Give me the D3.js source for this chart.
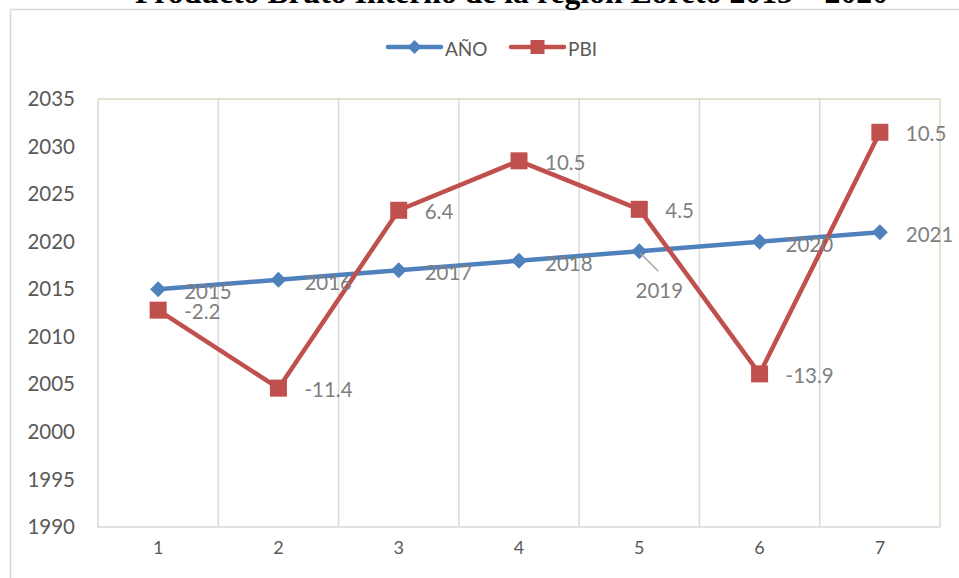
<!DOCTYPE html>
<html>
<head>
<meta charset="utf-8">
<script src="https://cdn.jsdelivr.net/npm/d3@7"></script>
<style>
  html, body { margin: 0; padding: 0; background: #fff; }
  svg { display: block; }
</style>
</head>
<body>
<svg id="chart" width="959" height="578"></svg>
<script>
// ---- data ----
const categories = [1, 2, 3, 4, 5, 6, 7];
const anoValues = [2015, 2016, 2017, 2018, 2019, 2020, 2021];
const anoLabels = ["2015", "2016", "2017", "2018", "2019", "2020", "2021"];
const pbiValues = [2012.8, 2004.6, 2023.3, 2028.5, 2023.4, 2006.1, 2031.5];
const pbiLabels = ["-2.2", "-11.4", "6.4", "10.5", "4.5", "-13.9", "10.5"];
const yTicks = [1990, 1995, 2000, 2005, 2010, 2015, 2020, 2025, 2030, 2035];
const seriesNames = ["AÑO", "PBI"];
const titleText = "Producto Bruto Interno de la región Loreto 2015 – 2020";

const blue = "#4f81bd", red = "#c0504d";
const labelFont = "Lato, Carlito, Calibri, 'Open Sans', sans-serif";

const svg = d3.select("#chart");
const plot = { left: 98, right: 940, top: 99, bottom: 527 };

const x = d3.scaleBand().domain(categories).range([plot.left, plot.right]).padding(0);
const y = d3.scaleLinear().domain([1990, 2035]).range([plot.bottom, plot.top]);
const cx = d => x(d) + x.bandwidth() / 2;

// outer chart border
svg.append("path")
  .attr("d", `M10.5,578 V9.5 H959`)
  .attr("fill", "none").attr("stroke", "#d9d9d9").attr("stroke-width", 1.5);

// title (clipped at top)
svg.append("text")
  .attr("x", 135).attr("y", 3)
  .attr("textLength", 753).attr("lengthAdjust", "spacingAndGlyphs")
  .attr("font-family", "'Liberation Serif', 'Times New Roman', serif")
  .attr("font-weight", "bold").attr("font-size", 31.5)
  .attr("fill", "#000").text(titleText);

// vertical gridlines at category boundaries
const bounds = categories.slice(1).map(c => x(c));
svg.append("g").selectAll("line").data(bounds).join("line")
  .attr("x1", d => d).attr("x2", d => d)
  .attr("y1", plot.top).attr("y2", plot.bottom)
  .attr("stroke", "#d9d9d9").attr("stroke-width", 1.5);

// plot area border
svg.append("path")
  .attr("d", `M${plot.left},${plot.top} H${plot.right} V${plot.bottom}`)
  .attr("fill", "none").attr("stroke", "#ddd9c3").attr("stroke-width", 1.5);
svg.append("path")
  .attr("d", `M${plot.left},${plot.top} V${plot.bottom} H${plot.right}`)
  .attr("fill", "none").attr("stroke", "#d9d9d9").attr("stroke-width", 1.5);

// y axis labels
const yAxis = d3.axisLeft(y).tickValues(yTicks).tickSize(0).tickPadding(23).tickFormat(d3.format("d"));
const gy = svg.append("g").attr("transform", `translate(${plot.left},0)`).call(yAxis);
gy.select(".domain").remove();
gy.selectAll("text").attr("font-family", labelFont).attr("font-size", 20.5).attr("fill", "#595959");

// x axis labels
const xAxis = d3.axisBottom(x).tickSize(0).tickPadding(14);
const gx = svg.append("g").attr("transform", `translate(0,${plot.bottom})`).call(xAxis);
gx.select(".domain").remove();
gx.selectAll("text").attr("font-family", labelFont).attr("font-size", 18).attr("fill", "#595959");

// lines
const line = vals => d3.line().x((d, i) => cx(categories[i])).y(d => y(d))(vals);
svg.append("path").attr("d", line(anoValues)).attr("fill", "none")
  .attr("stroke", blue).attr("stroke-width", 4.5).attr("stroke-linejoin", "round");
svg.append("path").attr("d", line(pbiValues)).attr("fill", "none")
  .attr("stroke", red).attr("stroke-width", 4.5).attr("stroke-linejoin", "round");

// markers
const diamond = (px, py, r) => `M${px},${py - r} L${px + r},${py} L${px},${py + r} L${px - r},${py} Z`;
svg.append("g").selectAll("path").data(anoValues).join("path")
  .attr("d", (d, i) => diamond(cx(categories[i]), y(d), 8))
  .attr("fill", blue);
svg.append("g").selectAll("rect").data(pbiValues).join("rect")
  .attr("x", (d, i) => cx(categories[i]) - 8.5).attr("y", d => y(d) - 8.5)
  .attr("width", 17).attr("height", 17).attr("fill", red);

// data labels
const labelColor = "#7f7f7f";
// AÑO labels
anoValues.forEach((v, i) => {
  const px = cx(categories[i]), py = y(v);
  if (i === 4) {
    svg.append("line").attr("x1", px + 1).attr("y1", py + 2).attr("x2", px + 19).attr("y2", py + 20)
      .attr("stroke", "#a6a6a6").attr("stroke-width", 1.5);
    svg.append("text").attr("x", px + 20).attr("y", py + 39)
      .attr("text-anchor", "middle").attr("dominant-baseline", "central")
      .attr("font-family", labelFont).attr("font-size", 20.5).attr("fill", labelColor)
      .text(anoLabels[i]);
  } else {
    svg.append("text").attr("x", px + 26).attr("y", py + 2)
      .attr("dominant-baseline", "central")
      .attr("font-family", labelFont).attr("font-size", 20.5).attr("fill", labelColor)
      .text(anoLabels[i]);
  }
});
// PBI labels
pbiValues.forEach((v, i) => {
  const px = cx(categories[i]), py = y(v);
  svg.append("text").attr("x", px + 26).attr("y", py + 1)
    .attr("dominant-baseline", "central")
    .attr("font-family", labelFont).attr("font-size", 20.5).attr("fill", labelColor)
    .text(pbiLabels[i]);
});

// legend
const lg = svg.append("g");
const legendItems = [
  { name: seriesNames[0], color: blue, x: 388, type: "diamond" },
  { name: seriesNames[1], color: red, x: 511, type: "square" }
];
legendItems.forEach(it => {
  const ly = 47;
  lg.append("line").attr("x1", it.x).attr("x2", it.x + 53).attr("y1", ly).attr("y2", ly)
    .attr("stroke", it.color).attr("stroke-width", 4.5).attr("stroke-linecap", "round");
  if (it.type === "diamond") {
    lg.append("path").attr("d", diamond(it.x + 26.5, ly, 7)).attr("fill", it.color);
  } else {
    lg.append("rect").attr("x", it.x + 26.5 - 7).attr("y", ly - 7).attr("width", 14).attr("height", 14).attr("fill", it.color);
  }
  lg.append("text").attr("x", it.x + 57).attr("y", ly + 1).attr("dominant-baseline", "central")
    .attr("font-family", labelFont).attr("font-size", 19).attr("fill", "#595959").text(it.name);
});
</script>
</body>
</html>
